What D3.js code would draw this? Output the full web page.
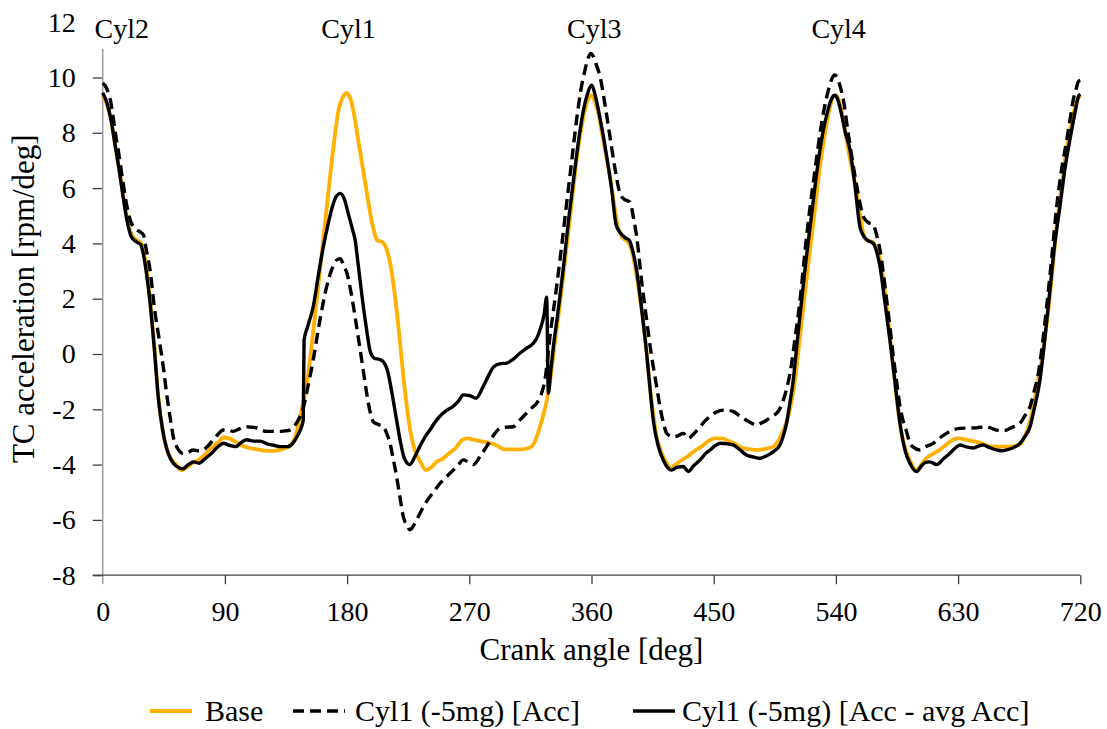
<!DOCTYPE html>
<html>
<head>
<meta charset="utf-8">
<script src="https://cdnjs.cloudflare.com/ajax/libs/d3/7.8.5/d3.min.js"></script>
<style>
  html, body { margin: 0; padding: 0; background: #fff; }
  svg { display: block; font-family: "Liberation Serif", "Times New Roman", serif; }
</style>
</head>
<body>
<svg id="chart" width="1107" height="729"></svg>
<script>
// Turbocharger acceleration over one engine cycle, [crank angle (deg), rpm/deg]
const baseSeries = [
  [0,9.35],[3,9.05],[6,8.5],[9,7.6],[12,6.7],[15,5.8],[18,4.9],[21,4.35],[25,4.12],[28,4.02],
  [30,3.75],[32,3.2],[35,1.9],[38,0.3],[41,-1.6],[44,-2.7],[47,-3.4],[50,-3.75],[54,-4.0],[58,-4.2],
  [62,-4.1],[66,-3.95],[70,-3.85],[75,-3.65],[80,-3.4],[85,-3.2],[89,-3.02],[93,-3.05],[97,-3.15],
  [102,-3.3],[108,-3.4],[114,-3.45],[120,-3.5],[126,-3.5],[132,-3.45],[137,-3.35],[141,-3.1],
  [144,-2.6],[147,-1.9],[150,-1.2],[155,0.8],[160,3.0],[165,5.3],[170,7.5],[174,8.9],[177,9.3],
  [179.5,9.43],[182,9.3],[185,8.7],[188,7.8],[191,6.9],[194,6.0],[197,5.1],[200,4.4],[202,4.12],
  [206,4.05],[209,3.8],[212,3.2],[215,2.2],[218,0.9],[221,-0.6],[224,-1.9],[227,-2.9],[230,-3.5],
  [234,-3.9],[238,-4.2],[242,-4.1],[246,-3.9],[250,-3.8],[255,-3.6],[260,-3.4],[265,-3.1],[269,-3.05],
  [273,-3.1],[278,-3.15],[284,-3.2],[290,-3.3],[296,-3.45],[302,-3.45],[308,-3.45],[314,-3.4],
  [318,-3.2],[321,-2.8],[324,-2.3],[327,-1.7],[330,-0.8],[333,0.4],[337,1.9],[341,3.6],[345,5.3],
  [349,7.0],[353,8.3],[356,9.0],[358.5,9.3],[360,9.35],[362,9.2],[365,8.7],[368,7.9],[371,7.1],
  [374,6.3],[377,5.3],[380,4.5],[383,4.2],[387,4.05],[390,3.7],[393,2.9],[396,1.9],[399,0.8],
  [402,-0.7],[405,-2.0],[408,-3.0],[411,-3.5],[415,-3.9],[418,-4.13],[422,-4.0],[426,-3.85],
  [431,-3.7],[436,-3.5],[441,-3.35],[446,-3.15],[451,-3.05],[456,-3.05],[461,-3.15],[466,-3.25],
  [471,-3.4],[477,-3.45],[483,-3.47],[489,-3.42],[494,-3.35],[498,-3.1],[501,-2.8],[504,-2.4],
  [507,-1.8],[510,-0.9],[513,0.4],[516,1.7],[520,3.4],[524,5.0],[528,6.7],[532,8.0],[535,8.8],
  [538,9.3],[540,9.35],[542,9.2],[545,8.6],[548,7.7],[551,6.9],[554,6.2],[557,5.3],[560,4.4],
  [563,4.1],[567,4.05],[570,3.8],[573,3.3],[576,2.3],[579,1.0],[582,-0.4],[585,-1.7],[588,-2.8],
  [591,-3.4],[595,-3.9],[599,-4.2],[603,-4.0],[607,-3.75],[612,-3.6],[617,-3.45],[622,-3.25],
  [627,-3.08],[631,-3.05],[636,-3.1],[641,-3.15],[646,-3.2],[651,-3.3],[656,-3.35],[661,-3.35],
  [666,-3.35],[671,-3.33],[676,-3.25],[679,-3.0],[682,-2.6],[685,-2.0],[688,-1.2],[691,-0.4],
  [694,0.6],[697,1.8],[700,3.3],[703,4.8],[706,6.0],[709,7.1],[712,8.0],[715,8.7],[718,9.2],[720,9.35]
];

const accSeries = [
  [0,9.8],[3,9.6],[6,9.1],[9,8.1],[12,7.2],[15,6.2],[18,5.3],[21,4.75],[25,4.5],[28,4.4],
  [30,4.3],[32,3.8],[35,3.0],[38,1.7],[42,0.4],[45,-0.6],[47,-1.41],[50,-2.4],[52,-3.0],[55,-3.4],
  [59.4,-3.6],[63,-3.55],[66.7,-3.47],[70,-3.5],[74,-3.47],[78,-3.3],[81.5,-3.1],[85,-2.9],
  [88.8,-2.75],[92,-2.75],[96,-2.8],[101,-2.7],[106,-2.63],[110,-2.65],[113.4,-2.67],[117,-2.75],
  [120.8,-2.8],[126,-2.8],[130.6,-2.8],[134,-2.78],[138,-2.75],[142,-2.55],[145.3,-2.27],[148,-1.9],
  [150.2,-1.41],[155,-0.22],[160,1.23],[164.9,2.43],[169,3.1],[172.3,3.4],[175,3.45],[177.5,3.2],
  [180,2.9],[183,2.2],[187,0.99],[191,-0.3],[194.4,-1.41],[197,-2.1],[199.3,-2.45],[203,-2.55],
  [206.7,-2.63],[209,-2.85],[211.6,-3.23],[214,-3.8],[216.5,-4.44],[219,-5.2],[221.4,-5.88],
  [224,-6.2],[226.3,-6.36],[229,-6.2],[233.7,-5.76],[237,-5.45],[241,-5.16],[245,-4.9],[248.4,-4.68],
  [251,-4.55],[255,-4.35],[258.2,-4.2],[262,-4.0],[265.6,-3.83],[269,-3.9],[273,-4.0],[278,-3.7],
  [282.7,-3.35],[287,-3.0],[292.6,-2.69],[297,-2.65],[302.4,-2.63],[307,-2.4],[312.2,-2.14],
  [316,-1.95],[319.6,-1.78],[323,-1.45],[325.7,-0.94],[329.4,0.63],[334.3,2.43],[338,3.9],
  [341.7,5.45],[345,6.8],[349,8.46],[352,9.5],[355.2,10.27],[357.5,10.7],[359.4,10.87],[361.5,10.75],
  [364,10.4],[366.3,10.03],[370,9.0],[373.6,7.86],[377,6.8],[381,5.81],[384,5.6],[388.3,5.5],
  [391,4.9],[393.3,4.24],[397,2.6],[400.6,1.23],[404,0.0],[408,-1.18],[410.4,-1.9],[413,-2.5],
  [415.4,-2.87],[420.3,-3.0],[424,-2.95],[427.6,-2.87],[431.3,-3.05],[435,-2.9],[440,-2.63],
  [444,-2.4],[447.3,-2.27],[452,-2.1],[457.1,-2.03],[464.4,-2.08],[468,-2.2],[471.8,-2.33],
  [476,-2.45],[481.7,-2.57],[485,-2.5],[489,-2.39],[493,-2.25],[496.4,-2.14],[499,-1.95],
  [501.3,-1.66],[504,-1.2],[506.2,-0.7],[510,0.6],[513.6,1.95],[517,3.6],[521,5.33],[525,6.8],
  [528.3,7.98],[531.5,8.9],[534.5,9.55],[537,9.95],[539,10.09],[541,10.0],[543,9.7],[545.5,9.19],
  [549,8.0],[552.9,6.77],[556,5.9],[560.2,4.97],[564,4.75],[567.5,4.67],[570,4.3],[572.5,3.76],
  [575,2.9],[577.4,1.95],[580,0.9],[582.3,-0.1],[585,-1.1],[587.2,-1.9],[590,-2.5],[592,-2.8],
  [594.5,-3.23],[598,-3.4],[601.9,-3.47],[606,-3.35],[611.7,-3.23],[616,-3.05],[621.5,-2.87],
  [626,-2.75],[631.4,-2.69],[637,-2.68],[643.6,-2.67],[651,-2.63],[655,-2.7],[658.3,-2.75],
  [662,-2.78],[665.6,-2.75],[670,-2.65],[675.5,-2.51],[679,-2.25],[683,-1.9],[686,-1.35],
  [689.1,-0.7],[692,0.3],[695.2,1.7],[699,3.5],[702.6,5.33],[706,6.6],[710,7.74],[712.5,8.5],
  [714.8,9.19],[717,9.6],[718.5,9.85],[720,9.9]
];

const accMinusAvgSeries = [
  [0,9.45],[3,9.1],[6,8.5],[9,7.6],[12,6.7],[15,5.7],[18,4.8],[21,4.25],[25,4.05],[28,3.95],
  [30,3.6],[32,3.0],[35,1.8],[38,0.2],[41,-1.6],[44,-2.7],[47,-3.4],[50,-3.8],[54,-4.05],[59,-4.15],
  [63,-4.0],[67,-3.9],[71,-3.95],[75,-3.8],[80,-3.6],[85,-3.35],[89,-3.23],[93,-3.3],[98,-3.35],
  [102,-3.2],[106,-3.1],[111,-3.15],[116,-3.15],[121,-3.25],[126,-3.3],[131,-3.35],[136,-3.35],
  [140,-3.23],[143,-3.0],[145.5,-2.75],[147.7,-2.4],[148.3,0.5],[151,1.0],[155,1.7],[159,2.9],
  [162.5,3.88],[166,4.7],[169,5.3],[172,5.7],[175,5.81],[178,5.6],[181,5.05],[184,4.5],[186,4.1],
  [188,3.3],[190.7,2.2],[194,1.0],[197,0.1],[200,-0.15],[204,-0.2],[207,-0.3],[210,-0.65],
  [213,-1.4],[216.5,-2.4],[219,-3.1],[222,-3.75],[226,-4.0],[230,-3.7],[234,-3.3],[238,-2.95],
  [241,-2.75],[245,-2.45],[248,-2.27],[253,-2.05],[258,-1.9],[262,-1.7],[265.6,-1.48],[270,-1.5],
  [275,-1.6],[280,-1.2],[284,-0.8],[288,-0.46],[293,-0.35],[297.5,-0.33],[302,-0.2],[307,0.02],
  [312,0.2],[317,0.38],[320,0.6],[322,0.87],[325,1.4],[327,2.05],[328.2,-1.42],[330,-0.6],
  [332,0.3],[335,1.4],[339,3.0],[343,4.8],[347,6.4],[351,7.9],[354,8.8],[357,9.4],[360,9.72],
  [363,9.3],[366,8.6],[369,7.8],[372,6.9],[375,5.9],[378,4.7],[381,4.4],[385,4.2],[388,4.1],
  [390,3.8],[393,3.1],[397,1.6],[400.6,0.03],[403,-1.2],[405.5,-2.4],[409,-3.3],[413,-3.85],
  [419,-4.2],[423,-4.1],[427.6,-4.07],[431.3,-4.25],[435,-4.05],[440,-3.83],[444,-3.6],
  [447.3,-3.47],[451,-3.32],[455,-3.23],[460,-3.25],[464.5,-3.29],[469,-3.45],[474,-3.65],
  [479,-3.72],[484,-3.77],[489,-3.68],[494,-3.53],[498.8,-3.29],[501,-3.0],[503.7,-2.5],[506,-1.8],
  [508.6,-0.94],[511,0.2],[514,1.6],[518,3.4],[522,5.0],[526,6.6],[530,7.9],[534,8.8],[537,9.25],
  [539,9.36],[541,9.25],[544,8.7],[547,8.0],[550.4,7.38],[554,6.1],[557.7,4.6],[560,4.3],
  [563,4.12],[567.5,4.0],[570,3.7],[572.5,3.16],[576,1.9],[579.8,0.5],[583,-0.8],[587.2,-2.5],
  [591,-3.5],[594.5,-3.95],[599.5,-4.25],[603,-4.05],[606,-3.92],[609.3,-3.9],[614.2,-4.0],
  [619,-3.8],[624,-3.59],[628,-3.4],[631.4,-3.29],[636,-3.36],[641.2,-3.4],[644,-3.35],
  [648.5,-3.29],[653,-3.38],[658.2,-3.47],[662,-3.5],[665.6,-3.47],[670,-3.4],[675.6,-3.23],
  [679,-3.0],[683,-2.63],[686,-2.0],[690.3,-0.94],[694,0.6],[697.6,2.3],[701,3.9],[705,5.33],
  [709,6.8],[712.3,7.74],[716,8.7],[718.5,9.3],[720,9.4]
];

const xTicks = [0, 90, 180, 270, 360, 450, 540, 630, 720];
const yTicks = [-8, -6, -4, -2, 0, 2, 4, 6, 8, 10, 12];
const cylLabels = ["Cyl2", "Cyl1", "Cyl3", "Cyl4"];
const cylAngles = [14, 181, 362, 542];
const seriesNames = ["Base", "Cyl1 (-5mg) [Acc]", "Cyl1 (-5mg) [Acc - avg Acc]"];

const svg = d3.select("#chart");
const ORANGE = "#FFB000";

const x = d3.scaleLinear().domain([0, 720]).range([102.7, 1080.3]);
const y = d3.scaleLinear().domain([-8, 12]).range([575.2, 22.2]);

// y axis
const yAxis = svg.append("g")
  .attr("transform", `translate(${x(0)},0)`)
  .call(d3.axisLeft(y).tickValues(yTicks).tickSize(10).tickPadding(17).tickFormat(d => String(d)));
yAxis.select(".domain").remove();
yAxis.selectAll(".tick line").attr("stroke", "#404040").attr("stroke-width", 1.3);
yAxis.selectAll(".tick text").attr("font-family", "Liberation Serif").attr("font-size", 28).attr("fill", "#000");
svg.append("line")
  .attr("x1", x(0)).attr("x2", x(0))
  .attr("y1", y(12)).attr("y2", y(-8) + 9)
  .attr("stroke", "#a0a0a0").attr("stroke-width", 1.6);

// x axis
const xAxis = svg.append("g")
  .attr("transform", `translate(0,${y(-8)})`)
  .call(d3.axisBottom(x).tickValues(xTicks).tickSize(9).tickPadding(17).tickSizeOuter(0).tickFormat(d => String(d)));
xAxis.select(".domain").attr("stroke", "#404040").attr("stroke-width", 1.3)
  .attr("d", `M${x(0) - 10},0H${x(720)}`);
xAxis.selectAll(".tick line").attr("stroke", "#404040").attr("stroke-width", 1.3);
xAxis.selectAll(".tick").filter(d => d === 0).select("line").remove();
xAxis.selectAll(".tick text").attr("font-family", "Liberation Serif").attr("font-size", 28).attr("fill", "#000");

// axis titles
svg.append("text")
  .attr("x", (x(0) + x(720)) / 2).attr("y", 660)
  .attr("text-anchor", "middle").attr("font-size", 31)
  .text("Crank angle [deg]");
svg.append("text")
  .attr("transform", `translate(34,${(y(12) + y(-8)) / 2}) rotate(-90)`)
  .attr("text-anchor", "middle").attr("font-size", 31)
  .text("TC acceleration [rpm/deg]");

// series
const line = d3.line().x(d => x(d[0])).y(d => y(d[1])).curve(d3.curveMonotoneX);

svg.append("path").datum(baseSeries)
  .attr("d", line).attr("fill", "none")
  .attr("stroke", ORANGE).attr("stroke-width", 3.8).attr("stroke-linejoin", "round");
svg.append("path").datum(accSeries)
  .attr("d", line).attr("fill", "none")
  .attr("stroke", "#000").attr("stroke-width", 3.4).attr("stroke-dasharray", "11,6");
svg.append("path").datum(accMinusAvgSeries)
  .attr("d", line).attr("fill", "none")
  .attr("stroke", "#000").attr("stroke-width", 3.4).attr("stroke-linejoin", "round");

// cylinder firing labels, each on its own white text box
cylLabels.forEach((label, i) => {
  const cx = x(cylAngles[i]);
  svg.append("rect")
    .attr("x", cx - 34).attr("y", 0).attr("width", 68).attr("height", 49)
    .attr("fill", "#fff");
  svg.append("text")
    .attr("x", cx).attr("y", 38)
    .attr("text-anchor", "middle").attr("font-size", 28)
    .text(label);
});

// legend
const legendY = 711;
const legendItems = [
  { x1: 150, x2: 192, tx: 205, color: ORANGE, dash: null, width: 4 },
  { x1: 293, x2: 345, tx: 355, color: "#000", dash: "11,6", width: 3.4 },
  { x1: 633, x2: 675, tx: 682, color: "#000", dash: null, width: 3.6 }
];
legendItems.forEach((it, i) => {
  svg.append("line")
    .attr("x1", it.x1).attr("x2", it.x2).attr("y1", legendY).attr("y2", legendY)
    .attr("stroke", it.color).attr("stroke-width", it.width)
    .attr("stroke-dasharray", it.dash);
  svg.append("text")
    .attr("x", it.tx).attr("y", legendY + 10)
    .attr("font-size", 30)
    .text(seriesNames[i]);
});
</script>
</body>
</html>
